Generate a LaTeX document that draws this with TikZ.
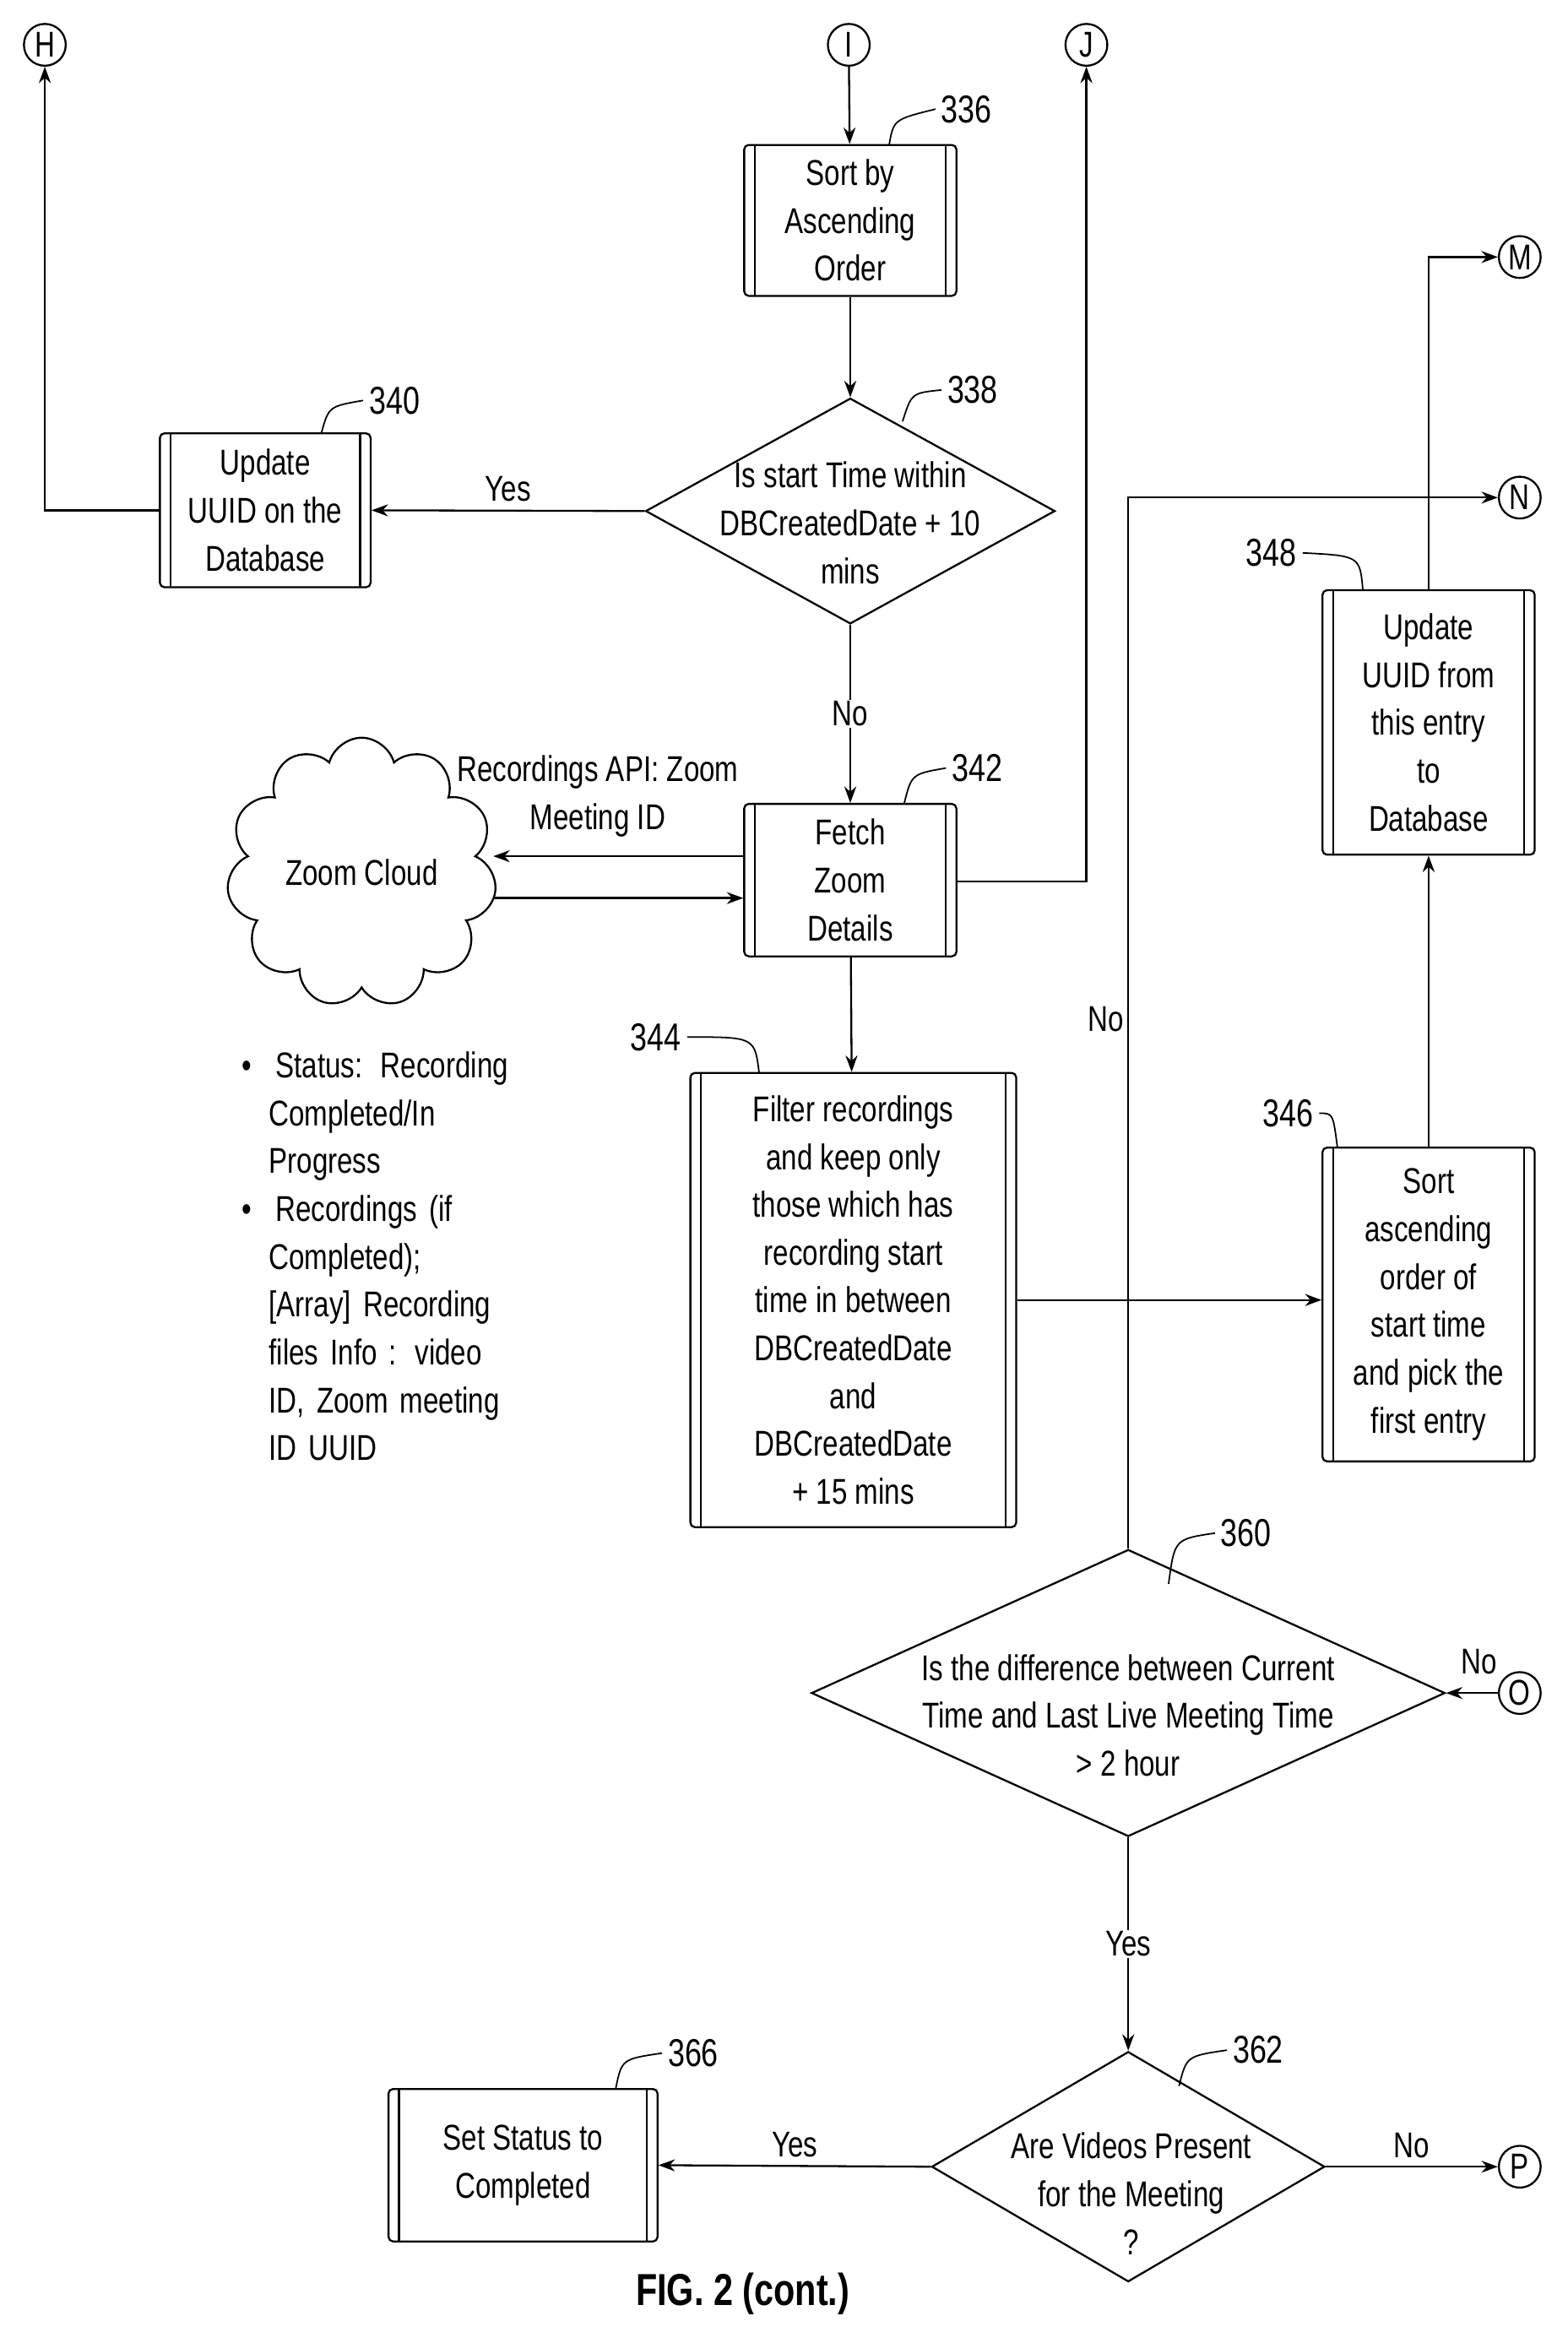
\documentclass[tikz,border=0pt]{standalone}
\usepackage{fontspec}
\setmainfont{Liberation Sans}[FakeStretch=0.78]
\usetikzlibrary{shapes.geometric,shapes.symbols,arrows.meta}
\begin{document}
\begin{tikzpicture}[x=1pt,y=-1pt,line width=1.3pt,>={Stealth[length=11pt,width=8pt]},
  every node/.style={font=\fontsize{24}{32}\selectfont},
  proc/.style={draw,rounded corners=3pt,align=center,inner sep=0pt,
    path picture={\draw[line width=1.2pt] ([xshift=7pt]path picture bounding box.north west) -- ([xshift=7pt]path picture bounding box.south west);
      \draw[line width=1.2pt] ([xshift=-7pt]path picture bounding box.north east) -- ([xshift=-7pt]path picture bounding box.south east);}},
  dec/.style={draw,diamond,align=center,inner sep=0pt},
  conn/.style={draw,circle,minimum size=28pt,inner sep=0pt,font=\fontsize{24}{24}\selectfont},
  lbl/.style={font=\fontsize{26}{26}\selectfont,anchor=west}]
  \fill[white] (0,0) rectangle (1049,1568);

  % connectors
  \node[conn] (H) at (30,30) {H};
  \node[conn] (I) at (568,30) {I};
  \node[conn] (J) at (727,30) {J};
  \node[conn] (M) at (1017,172) {M};
  \node[conn] (N) at (1017,333) {N};
  \node[conn] (O) at (1017,1133) {O};
  \node[conn] (P) at (1017,1450) {P};

  % boxes
  \node[proc,minimum width=142pt,minimum height=101pt] (s336) at (569,147.5) {Sort by\\Ascending\\Order};
  \node[dec,minimum width=274pt,minimum height=151pt] (d338) at (569,342) {};
  \node[align=center] at (569,350) {Is start Time within\\DBCreatedDate + 10\\mins};
  \node[proc,minimum width=141pt,minimum height=103pt] (s340) at (177.5,341.5) {Update\\UUID on the\\Database};
  \node[proc,minimum width=142pt,minimum height=102pt] (s342) at (569,589) {Fetch\\Zoom\\Details};
  \node[cloud,draw,cloud puffs=11,minimum width=145pt,minimum height=78pt] (cloud) at (242,584) {Zoom Cloud};
  \node[proc,minimum width=218pt,minimum height=304pt] (s344) at (571,870) {Filter recordings\\and keep only\\those which has\\recording start\\time in between\\DBCreatedDate\\and\\DBCreatedDate\\+ 15 mins};
  \node[proc,minimum width=142pt,minimum height=210pt] (s346) at (956,873) {Sort\\ascending\\order of\\start time\\and pick the\\first entry};
  \node[proc,minimum width=142pt,minimum height=177pt] (s348) at (956,483.5) {Update\\UUID from\\this entry\\to\\Database};
  \node[dec,minimum width=424pt,minimum height=192pt] (d360) at (755,1133) {};
  \node[align=center] at (755,1148) {Is the difference between Current\\Time and Last Live Meeting Time\\> 2 hour};
  \node[dec,minimum width=263pt,minimum height=154pt] (d362) at (755,1450) {};
  \node[align=center] at (757,1468) {Are Videos Present\\for the Meeting\\?};
  \node[proc,minimum width=180pt,minimum height=102pt] (s366) at (350,1449) {Set Status to\\Completed};

  % bullet text
  \node[anchor=north west,align=left,text width=185pt] (notes) at (158,700)
    {\textbullet\ \ Status: Recording\\\hspace*{18pt}Completed/In\\\hspace*{18pt}Progress\\
     \textbullet\ \ Recordings (if\\\hspace*{18pt}Completed);\\\hspace*{18pt}[Array] Recording\\\hspace*{18pt}files Info : video\\\hspace*{18pt}ID, Zoom meeting\\\hspace*{18pt}ID UUID};

  % reference numerals
  \node[lbl] (n336) at (626,73) {336};
  \node[lbl] (n338) at (630,261) {338};
  \node[lbl] (n340) at (243,268) {340};
  \node[lbl] (n342) at (633,514) {342};
  \node[lbl] (n344) at (418,694) {344};
  \node[lbl] (n346) at (841,745) {346};
  \node[lbl] (n348) at (830,370) {348};
  \node[lbl] (n360) at (813,1026) {360};
  \node[lbl] (n362) at (821,1372) {362};
  \node[lbl] (n366) at (443,1374) {366};
  \draw[line width=1pt] (595,97) .. controls (598,80) .. (n336.west);
  \draw[line width=1pt] (604,282) .. controls (610,263) .. (n338.west);
  \draw[line width=1pt] (215,290) .. controls (220,272) .. (n340.west);
  \draw[line width=1pt] (605,538) .. controls (610,518) .. (n342.west);
  \draw[line width=1pt] (n344.east) .. controls (505,694) .. (508,718);
  \draw[line width=1pt] (n346.east) .. controls (892,745) .. (895,768);
  \draw[line width=1pt] (n348.east) .. controls (910,372) .. (912,395);
  \draw[line width=1pt] (782,1060) .. controls (786,1030) .. (n360.west);
  \draw[line width=1pt] (789,1396) .. controls (794,1376) .. (n362.west);
  \draw[line width=1pt] (412,1398) .. controls (416,1378) .. (n366.west);

  % flow
  \draw[->] (I) -- (s336);
  \draw[->] (s336) -- (d338);
  \draw[->] (d338.west) -- node[above=2pt] {Yes} (s340.east);
  \draw[->] (s340.west) -| (H);
  \draw[->] (d338.south) -- node[fill=white,inner sep=1pt] {No} (s342.north);
  \draw[->] (s342.west |- 0,573) -- (cloud.east |- 0,573);
  \node[align=center] at (400,533) {Recordings API: Zoom\\Meeting ID};
  \draw[->] (cloud.east |- 0,601) -- (s342.west |- 0,601);
  \draw[->] (s342.east |- 0,590) -| (J);
  \draw[->] (s342) -- (s344);
  \draw[->] (s344.east) -- (s346.west |- s344.east);
  \draw[->] (s346) -- (s348);
  \draw[->] (s348.north) |- (M);
  \draw[->] (d360.north) |- (N);
  \node[fill=white,inner sep=1pt] at (740,682) {No};
  \draw[->] (O) -- (d360.east);
  \node at (990,1112) {No};
  \draw[->] (d360.south) -- node[fill=white,inner sep=1pt] {Yes} (d362.north);
  \draw[->] (d362.west) -- node[above=2pt] {Yes} (s366.east);
  \draw[->] (d362.east) -- node[above=2pt] {No} (P);

  \node[font=\fontsize{30}{30}\selectfont\bfseries] (cap) at (497,1535) {FIG. 2 (cont.)};
\end{tikzpicture}
\end{document}
